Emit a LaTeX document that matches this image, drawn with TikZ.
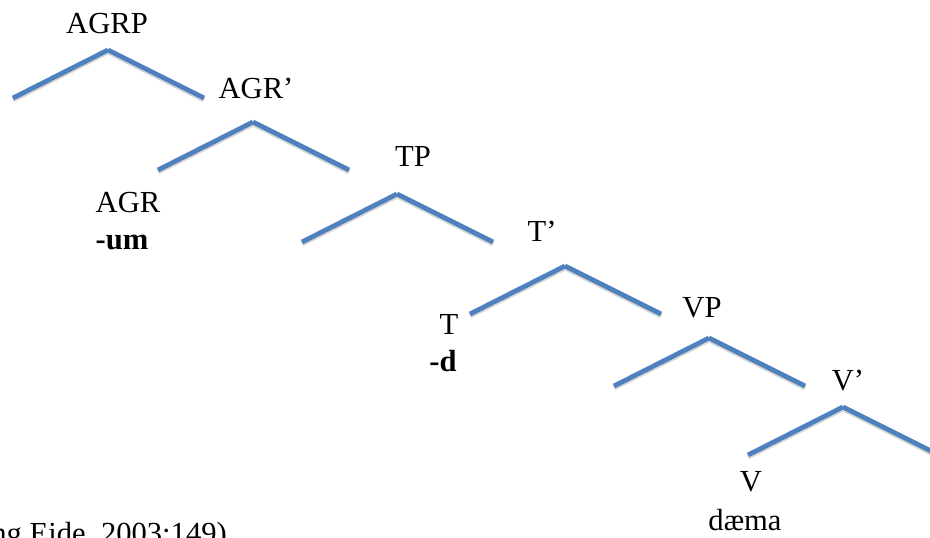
\documentclass[tikz,border=0pt]{standalone}
\usepackage{fontspec}
\setmainfont{Liberation Serif}
\definecolor{branchblue}{RGB}{79, 129, 189}
\definecolor{shadowgray}{RGB}{215, 215, 215}

\begin{document}
\begin{tikzpicture}[x=0.5pt, y=-0.5pt,
  every node/.style={font=\fontsize{15.3}{18}\selectfont, inner sep=0pt},
  branch/.style={draw=branchblue, line width=2.4pt,
    preaction={draw=shadowgray, line width=2.4pt, transform canvas={yshift=-1pt}}}]
  \useasboundingbox (0,0) rectangle (930,537);

  % apex of each binary branching
  \foreach \n/\x/\y in {1/108/50, 2/253/122, 3/397/194, 4/565/266, 5/709/338, 6/843/407} {
    \coordinate (apex\n) at (\x,\y);
    \coordinate (left\n) at (\x-95,\y+48);
    \coordinate (right\n) at (\x+96,\y+48);
  }
  \foreach \n in {1,...,6} {
    \draw[branch] (apex\n) -- (left\n);
    \draw[branch] (apex\n) -- (right\n);
  }

  % category labels
  \node (agrp)   at (107,24)  {AGRP};
  \node (agrbar) at (256,88)  {AGR’};
  \node (agr)    at (128,203) {AGR};
  \node[anchor=west, font=\fontsize{15.3}{18}\selectfont\bfseries] (um) at (agr.west |- 0,242) {-um};
  \node (tp)     at (413,156) {TP};
  \node (tbar)   at (542,231) {T’};
  \node (t)      at (449,324) {T};
  \node[font=\fontsize{15.3}{18}\selectfont\bfseries] (d) at (443,361) {-d};
  \node (vp)     at (702,308) {VP};
  \node (vbar)   at (848,381) {V’};
  \node (v)      at (751,482) {V};
  \node (daema)  at (745,520) {dæma};

  % source line, cut by the page edge
  \node[anchor=base west] (source) at (-9,543) {ng Eide, 2003:149)};
\end{tikzpicture}
\end{document}
